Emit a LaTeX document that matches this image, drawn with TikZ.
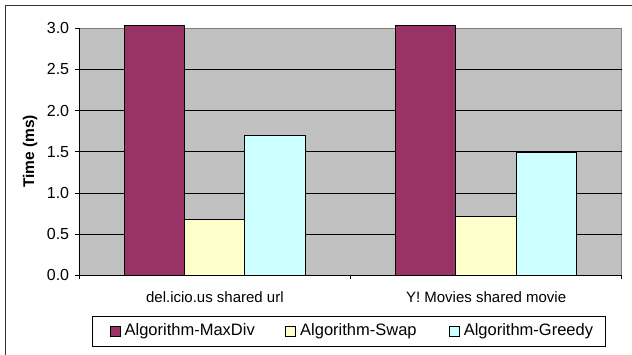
\documentclass[tikz,border=0pt]{standalone}
\usepackage{fontspec}
\setmainfont{Liberation Sans}
\usetikzlibrary{positioning}
\definecolor{maxdiv}{HTML}{993366}
\definecolor{swap}{HTML}{FFFFCC}
\definecolor{greedy}{HTML}{CCFFFF}
\definecolor{plotbg}{HTML}{C0C0C0}
\begin{document}
\begin{tikzpicture}[x=1pt,y=1pt,
        bar/.style={draw=black, line width=0.9pt},
        grid/.style={black, line width=0.8pt},
        ticklbl/.style={anchor=east, inner sep=0pt, font=\fontsize{16}{18}\selectfont},
        catlbl/.style={inner sep=0pt, font=\fontsize{15}{18}\selectfont},
        leglbl/.style={anchor=west, inner sep=0pt, font=\fontsize{16.5}{18}\selectfont},
        legkey/.style={draw=black, line width=0.8pt, minimum size=10pt, inner sep=0pt}]
    \useasboundingbox (0,0) rectangle (632,354);
    % outer chart frame
    \draw[black!80, line width=1pt] (5,-2) -- (5,348) -- (634,348);
    \begin{scope}[shift={(79.3,78.7)}, y=82.33pt]
        \fill[plotbg] (0,0) rectangle (542.4,3);
        \draw[gray, line width=0.9pt] (0,3) -- (542.4,3) -- (542.4,0);
        \draw[grid] (0,0.5) -- (542.4,0.5);
        \draw[grid] (0,1.0) -- (542.4,1.0);
        \draw[grid] (0,1.5) -- (542.4,1.5);
        \draw[grid] (0,2.0) -- (542.4,2.0);
        \draw[grid] (0,2.5) -- (542.4,2.5);
        % bars
        \draw[bar, fill=maxdiv] (45,0) rectangle (105.2,3.04);
        \draw[bar, fill=swap] (105.2,0) rectangle (165.5,0.684);
        \draw[bar, fill=greedy] (165.5,0) rectangle (225.8,1.696);
        \draw[bar, fill=maxdiv] (316.2,0) rectangle (376.4,3.04);
        \draw[bar, fill=swap] (376.4,0) rectangle (436.7,0.712);
        \draw[bar, fill=greedy] (436.7,0) rectangle (496.9,1.49);
        % axes
        \draw[black, line width=0.9pt] (-4,0) -- (542.4,0);
        \draw[black, line width=0.9pt] (0,-0.05) -- (0,3);
        \draw[black, line width=0.9pt] (271.2,0) -- (271.2,-0.05);
        \draw[black, line width=0.9pt] (542.4,0) -- (542.4,-0.05);
        \draw[black, line width=0.9pt] (-4,0.5) -- (0,0.5);
        \draw[black, line width=0.9pt] (-4,1.0) -- (0,1.0);
        \draw[black, line width=0.9pt] (-4,1.5) -- (0,1.5);
        \draw[black, line width=0.9pt] (-4,2.0) -- (0,2.0);
        \draw[black, line width=0.9pt] (-4,2.5) -- (0,2.5);
        \draw[black, line width=0.9pt] (-4,3.0) -- (0,3.0);
        \node[ticklbl] (t00) at (-10,0) {0.0};
        \node[ticklbl] (t05) at (-10,0.5) {0.5};
        \node[ticklbl] (t10) at (-10,1.0) {1.0};
        \node[ticklbl] (t15) at (-10,1.5) {1.5};
        \node[ticklbl] (t20) at (-10,2.0) {2.0};
        \node[ticklbl] (t25) at (-10,2.5) {2.5};
        \node[ticklbl] (t30) at (-10,3.0) {3.0};
        \node[catlbl] (cat1) at (135.6,-0.26) {del.icio.us shared url};
        \node[catlbl] (cat2) at (406.8,-0.26) {Y! Movies shared movie};
    \end{scope}
    \node[rotate=90, inner sep=0pt, font=\bfseries\fontsize{15.5}{18}\selectfont] (ylbl) at (30,202.5) {Time (ms)};
    % legend
    \node[draw=black, line width=0.8pt, minimum width=512.8pt, minimum height=30.5pt, inner sep=0pt] (legend) at (349.2,22.75) {};
    \node[legkey, fill=maxdiv] (k1) at (115,23) {};
    \node[leglbl, right=4pt of k1] (n1) {Algorithm-MaxDiv};
    \node[legkey, fill=swap] (k2) at (290.6,23) {};
    \node[leglbl, right=4pt of k2] (n2) {Algorithm-Swap};
    \node[legkey, fill=greedy] (k3) at (454.2,23) {};
    \node[leglbl, right=4pt of k3] (n3) {Algorithm-Greedy};
\end{tikzpicture}
\end{document}
